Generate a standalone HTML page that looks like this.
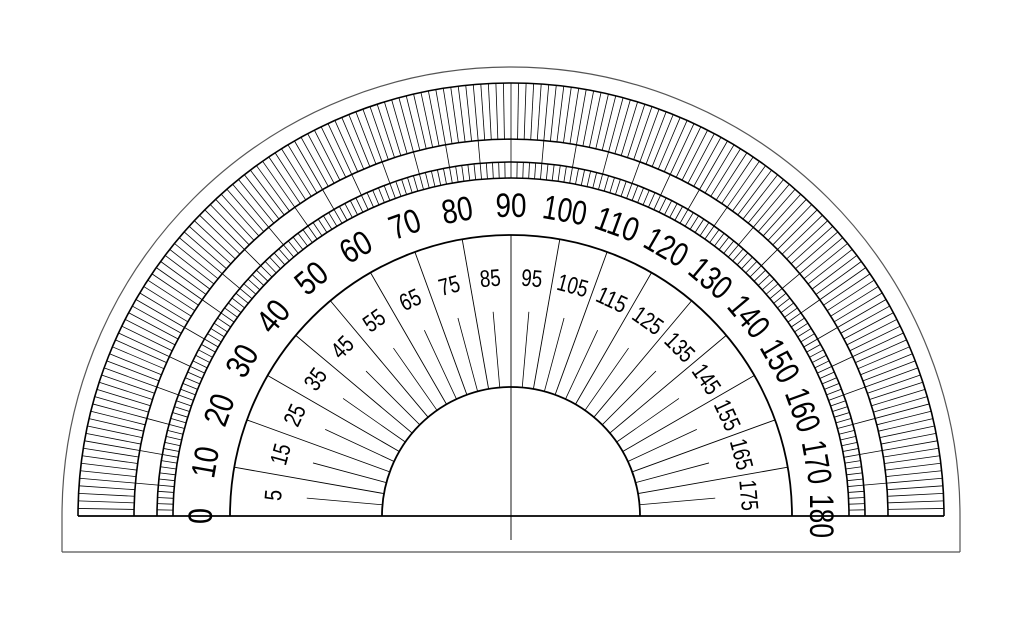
<!DOCTYPE html>
<html><head><meta charset="utf-8"><style>
html,body{margin:0;padding:0;background:#fff;width:1024px;height:628px;overflow:hidden}
text{font-family:"Liberation Sans",sans-serif;fill:#000}
</style></head><body>
<svg id="s" width="1024" height="628" viewBox="0 0 1024 628" xmlns="http://www.w3.org/2000/svg">
<g id="lines" stroke="#000" fill="none"></g>
<g font-size="34" text-anchor="middle" dominant-baseline="central">
<text x="511" y="206" transform="rotate(-90 511 516)" textLength="16" lengthAdjust="spacingAndGlyphs">0</text>
<text x="511" y="206" transform="rotate(-80 511 516)" textLength="31" lengthAdjust="spacingAndGlyphs">10</text>
<text x="511" y="206" transform="rotate(-70 511 516)" textLength="31" lengthAdjust="spacingAndGlyphs">20</text>
<text x="511" y="206" transform="rotate(-60 511 516)" textLength="31" lengthAdjust="spacingAndGlyphs">30</text>
<text x="511" y="206" transform="rotate(-50 511 516)" textLength="31" lengthAdjust="spacingAndGlyphs">40</text>
<text x="511" y="206" transform="rotate(-40 511 516)" textLength="31" lengthAdjust="spacingAndGlyphs">50</text>
<text x="511" y="206" transform="rotate(-30 511 516)" textLength="31" lengthAdjust="spacingAndGlyphs">60</text>
<text x="511" y="206" transform="rotate(-20 511 516)" textLength="31" lengthAdjust="spacingAndGlyphs">70</text>
<text x="511" y="206" transform="rotate(-10 511 516)" textLength="31" lengthAdjust="spacingAndGlyphs">80</text>
<text x="511" y="206" transform="rotate(0 511 516)" textLength="31" lengthAdjust="spacingAndGlyphs">90</text>
<text x="511" y="206" transform="rotate(10 511 516)" textLength="44" lengthAdjust="spacingAndGlyphs">100</text>
<text x="511" y="206" transform="rotate(20 511 516)" textLength="44" lengthAdjust="spacingAndGlyphs">110</text>
<text x="511" y="206" transform="rotate(30 511 516)" textLength="44" lengthAdjust="spacingAndGlyphs">120</text>
<text x="511" y="206" transform="rotate(40 511 516)" textLength="44" lengthAdjust="spacingAndGlyphs">130</text>
<text x="511" y="206" transform="rotate(50 511 516)" textLength="44" lengthAdjust="spacingAndGlyphs">140</text>
<text x="511" y="206" transform="rotate(60 511 516)" textLength="44" lengthAdjust="spacingAndGlyphs">150</text>
<text x="511" y="206" transform="rotate(70 511 516)" textLength="44" lengthAdjust="spacingAndGlyphs">160</text>
<text x="511" y="206" transform="rotate(80 511 516)" textLength="44" lengthAdjust="spacingAndGlyphs">170</text>
<text x="511" y="206" transform="rotate(90 511 516)" textLength="44" lengthAdjust="spacingAndGlyphs">180</text>
</g>
<g font-size="24" text-anchor="middle" dominant-baseline="central">
<text x="511" y="278" transform="rotate(-85 511 516)" textLength="11" lengthAdjust="spacingAndGlyphs">5</text>
<text x="511" y="278" transform="rotate(-75 511 516)" textLength="21" lengthAdjust="spacingAndGlyphs">15</text>
<text x="511" y="278" transform="rotate(-65 511 516)" textLength="21" lengthAdjust="spacingAndGlyphs">25</text>
<text x="511" y="278" transform="rotate(-55 511 516)" textLength="21" lengthAdjust="spacingAndGlyphs">35</text>
<text x="511" y="278" transform="rotate(-45 511 516)" textLength="21" lengthAdjust="spacingAndGlyphs">45</text>
<text x="511" y="278" transform="rotate(-35 511 516)" textLength="21" lengthAdjust="spacingAndGlyphs">55</text>
<text x="511" y="278" transform="rotate(-25 511 516)" textLength="21" lengthAdjust="spacingAndGlyphs">65</text>
<text x="511" y="278" transform="rotate(-15 511 516)" textLength="21" lengthAdjust="spacingAndGlyphs">75</text>
<text x="511" y="278" transform="rotate(-5 511 516)" textLength="21" lengthAdjust="spacingAndGlyphs">85</text>
<text x="511" y="278" transform="rotate(5 511 516)" textLength="21" lengthAdjust="spacingAndGlyphs">95</text>
<text x="511" y="278" transform="rotate(15 511 516)" textLength="31" lengthAdjust="spacingAndGlyphs">105</text>
<text x="511" y="278" transform="rotate(25 511 516)" textLength="31" lengthAdjust="spacingAndGlyphs">115</text>
<text x="511" y="278" transform="rotate(35 511 516)" textLength="31" lengthAdjust="spacingAndGlyphs">125</text>
<text x="511" y="278" transform="rotate(45 511 516)" textLength="31" lengthAdjust="spacingAndGlyphs">135</text>
<text x="511" y="278" transform="rotate(55 511 516)" textLength="31" lengthAdjust="spacingAndGlyphs">145</text>
<text x="511" y="278" transform="rotate(65 511 516)" textLength="31" lengthAdjust="spacingAndGlyphs">155</text>
<text x="511" y="278" transform="rotate(75 511 516)" textLength="31" lengthAdjust="spacingAndGlyphs">165</text>
<text x="511" y="278" transform="rotate(85 511 516)" textLength="31" lengthAdjust="spacingAndGlyphs">175</text>
</g>
</svg>
<script>
(function(){
var g=document.getElementById('lines'),cx=511,cy=516,o='';
function P(r,d){var a=d*Math.PI/180;return [(cx-r*Math.cos(a)).toFixed(2),(cy-r*Math.sin(a)).toFixed(2)];}
function L(r1,r2,d,w){var a=P(r1,d),b=P(r2,d);o+='<line x1="'+a[0]+'" y1="'+a[1]+'" x2="'+b[0]+'" y2="'+b[1]+'" stroke-width="'+w+'"/>';}
function A(r,w,c){o+='<path d="M'+(cx-r)+' '+cy+' A'+r+' '+r+' 0 0 1 '+(cx+r)+' '+cy+'" stroke-width="'+w+'" stroke="'+(c||'#000')+'"/>';}
for(var d=0;d<=180;d++){
 L(377,433,d,0.8);
 L(338,354,d,0.8);
 if(d%5==0) L(354,377,d,0.8);
 if(d%10==0&&d>0&&d<180) L(129,281,d,0.9);
 else if(d%5==0&&d>0&&d<180) L(129,205,d,0.8);
}
A(449,1.2,'#555');A(433,1.6);A(377,1.6);A(354,1.6);A(338,1.6);A(281,1.8);A(129,1.8);
o+='<line x1="62" y1="516" x2="62" y2="552" stroke="#555" stroke-width="1.2"/>';
o+='<line x1="960" y1="516" x2="960" y2="552" stroke="#555" stroke-width="1.2"/>';
o+='<line x1="62" y1="552" x2="960" y2="552" stroke="#555" stroke-width="1.2"/>';
o+='<line x1="78" y1="516" x2="944" y2="516" stroke-width="1.8"/>';
o+='<line x1="511" y1="387" x2="511" y2="540" stroke-width="0.9"/>';
g.innerHTML=o;
})();
</script>
</body></html>
